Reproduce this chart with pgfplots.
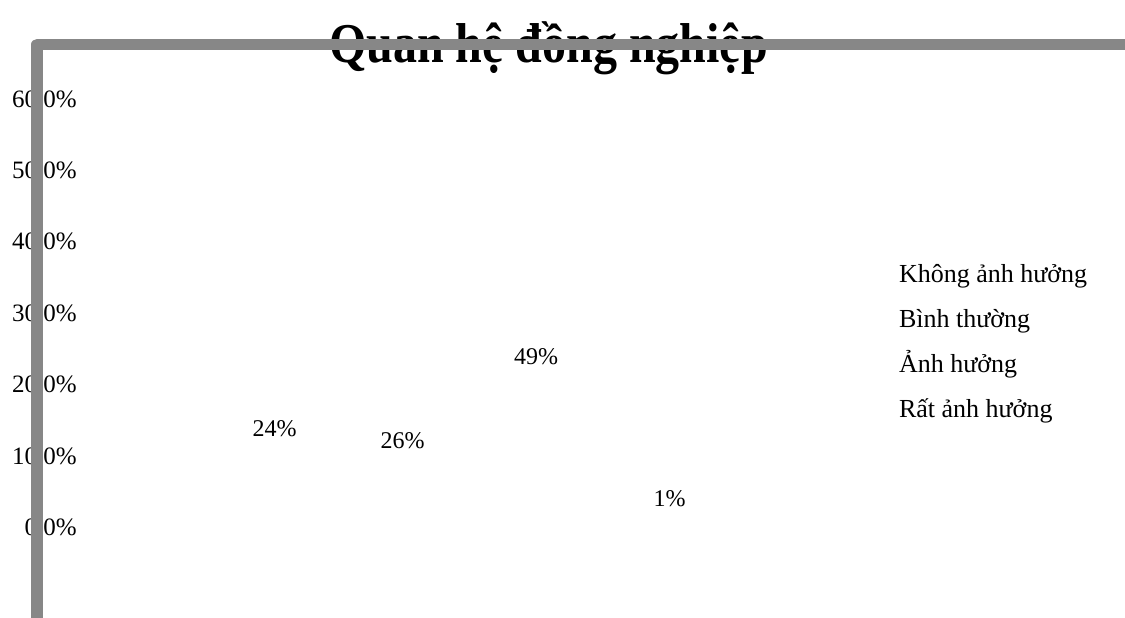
\documentclass[border=0pt]{standalone}
\usepackage{fontspec}
\setmainfont{Liberation Serif}
\usepackage{pgfplots}
\pgfplotsset{compat=1.18}
\definecolor{axisgray}{HTML}{878787}
\begin{document}
\begin{tikzpicture}
\begin{axis}[
  set layers,
  scale only axis,
  width=562.5pt, height=308.5pt,
  xmin=0, xmax=1125, ymin=0, ymax=617,
  y dir=reverse,
  clip=false,
  axis line style={draw=none},
  tick style={draw=none},
  major tick length=0pt,
  xtick=\empty,
  ytick={99,170.4,241.8,313.2,384.6,456,527.4},
  yticklabels={60.0\%,50.0\%,40.0\%,30.0\%,20.0\%,10.0\%,0.0\%},
  yticklabel style={anchor=east, inner sep=0pt, xshift=38.5pt, font=\fontsize{12.5pt}{14pt}\selectfont},
  title={Quan hệ đồng nghiệp},
  title style={at={(axis description cs:0.4876,0.9036)}, anchor=base, inner sep=0pt, yshift=-7.5pt,
    font=\bfseries\fontsize{24pt}{28pt}\selectfont, transform shape, yscale=1.17},
  nodes near coords style={anchor=center, inner sep=0pt, font=\fontsize{12pt}{14pt}\selectfont, text=black},
  legend image code/.code={},
  legend cell align=left,
  legend style={at={(axis description cs:0.7991,0.5710)}, anchor=north west,
    draw=none, fill=none, inner sep=0pt, outer sep=0pt, column sep=0pt, row sep=10.4pt,
    font=\fontsize{13pt}{15pt}\selectfont,
    nodes={inner sep=0pt, text height=9pt, text depth=3pt}},
]
\addplot[only marks, mark=none, point meta=explicit symbolic, nodes near coords] coordinates {(274.5,429) [24\%]};
\addlegendentry{Không ảnh hưởng}
\addplot[only marks, mark=none, point meta=explicit symbolic, nodes near coords] coordinates {(402.5,441) [26\%]};
\addlegendentry{Bình thường}
\addplot[only marks, mark=none, point meta=explicit symbolic, nodes near coords] coordinates {(536,356.5) [49\%]};
\addlegendentry{Ảnh hưởng}
\addplot[only marks, mark=none, point meta=explicit symbolic, nodes near coords] coordinates {(669.5,498.5) [1\%]};
\addlegendentry{Rất ảnh hưởng}
\addplot[forget plot, no marks, line width=5.75pt, color=axisgray, line join=round, on layer=axis foreground]
  coordinates {(37.2,640) (37.2,44.5) (1140,44.5)};
\end{axis}
\pgfresetboundingbox
\path (0,0) rectangle (562.5pt,308.5pt);
\end{tikzpicture}
\end{document}
